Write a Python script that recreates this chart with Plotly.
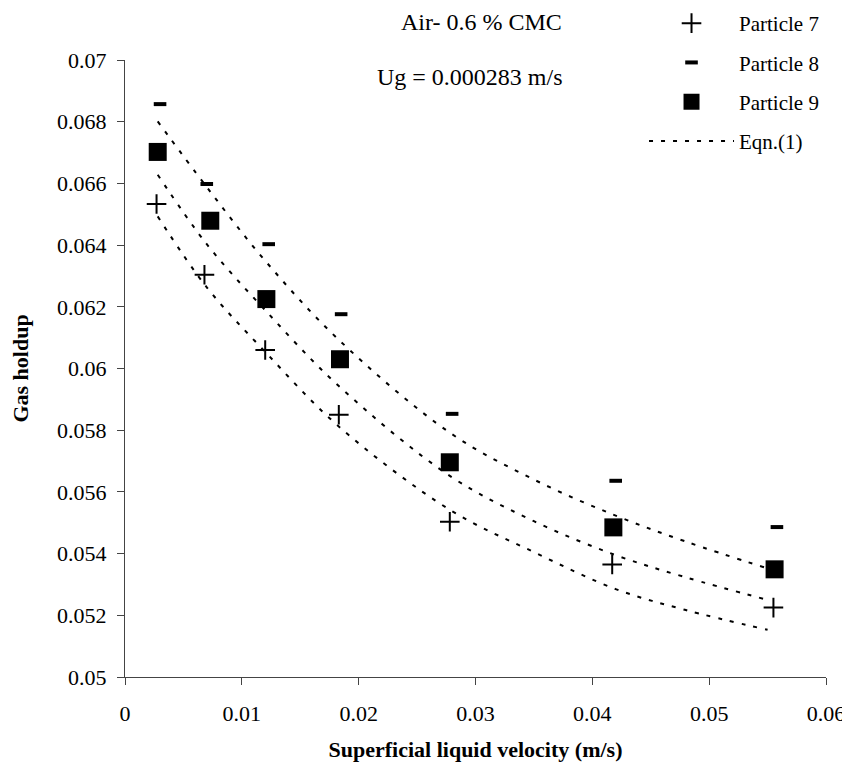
import plotly.graph_objects as go

# Measured data (superficial liquid velocity m/s, gas holdup)
x_p7 = [0.0027, 0.0068, 0.0120, 0.0183, 0.0278, 0.0417, 0.0555]
y_p7 = [0.06533, 0.06304, 0.06060, 0.05850, 0.05503, 0.05365, 0.05225]

x_p8 = [0.0030, 0.0070, 0.0123, 0.0185, 0.0280, 0.0420, 0.0558]
y_p8 = [0.06857, 0.06598, 0.06403, 0.06176, 0.05853, 0.05636, 0.05486]

x_p9 = [0.0028, 0.0073, 0.0121, 0.0184, 0.0278, 0.0418, 0.0556]
y_p9 = [0.06702, 0.06479, 0.06225, 0.06030, 0.05696, 0.05485, 0.05349]

# Eqn.(1) curves
x_fit = [0.0028, 0.0070, 0.0120, 0.0183, 0.0278, 0.0350, 0.0420, 0.0480, 0.0550]
y_fit7 = [0.06493, 0.06263, 0.06054, 0.05812, 0.05542, 0.05405, 0.05285, 0.05217, 0.05153]
y_fit8 = [0.06801, 0.06588, 0.06349, 0.06093, 0.05792, 0.05640, 0.05523, 0.05439, 0.05352]
y_fit9 = [0.06628, 0.06403, 0.06189, 0.05943, 0.05652, 0.05505, 0.05395, 0.05323, 0.05250]

x_ticks = [0, 0.01, 0.02, 0.03, 0.04, 0.05, 0.06]
x_ticklabels = ["0", "0.01", "0.02", "0.03", "0.04", "0.05", "0.06"]
y_ticks = [0.05, 0.052, 0.054, 0.056, 0.058, 0.06, 0.062, 0.064, 0.066, 0.068, 0.07]
y_ticklabels = ["0.05", "0.052", "0.054", "0.056", "0.058", "0.06",
                "0.062", "0.064", "0.066", "0.068", "0.07"]

FONT = "Liberation Serif"
dotline = dict(color="black", width=2, dash="4px,8px", shape="spline")

fig = go.Figure()

for yf, show in [(y_fit7, False), (y_fit8, False), (y_fit9, True)]:
    fig.add_trace(go.Scatter(
        x=x_fit, y=yf, mode="lines", line=dotline,
        name="Eqn.(1)", showlegend=show, legendgroup="g4", legendrank=4))

fig.add_trace(go.Scatter(
    x=x_p7, y=y_p7, mode="markers", name="Particle 7",
    legendgroup="g1", legendrank=1,
    marker=dict(symbol="cross-thin", size=14, line=dict(color="black", width=2))))
fig.add_trace(go.Scatter(
    x=x_p8, y=y_p8, mode="markers", name="Particle 8",
    legendgroup="g2", legendrank=2,
    marker=dict(symbol="line-ew", size=9, line=dict(color="black", width=4))))
fig.add_trace(go.Scatter(
    x=x_p9, y=y_p9, mode="markers", name="Particle 9",
    legendgroup="g3", legendrank=3,
    marker=dict(symbol="square", size=18, color="black")))

# The page body adds an 8px offset; the figure is sized so no scrollbar appears.
fig.update_layout(
    width=842, height=755,
    margin=dict(l=117, r=24, t=52, b=86, autoexpand=False),
    paper_bgcolor="white", plot_bgcolor="white",
    font=dict(family=FONT, size=22, color="black"),
    showlegend=True,
    legend=dict(
        x=0.7404, y=1.0924, xanchor="left", yanchor="top",
        traceorder="grouped", tracegroupgap=9,
        itemwidth=85, bgcolor="rgba(0,0,0,0)",
        font=dict(family=FONT, size=21, color="black"),
    ),
    xaxis=dict(
        range=[0, 0.06], tickvals=x_ticks, ticktext=x_ticklabels,
        showgrid=False, zeroline=False, showline=True, linecolor="#444",
        linewidth=1, ticks="outside", ticklen=7, tickcolor="#444",
        tickfont=dict(family=FONT, size=22), automargin=False,
        ticklabelstandoff=10,
        title=dict(text="<b>Superficial liquid velocity (m/s)</b>",
                   font=dict(family=FONT, size=22), standoff=16),
    ),
    yaxis=dict(
        range=[0.05, 0.07], tickvals=y_ticks, ticktext=y_ticklabels,
        showgrid=False, zeroline=False, showline=True, linecolor="#444",
        linewidth=1, ticks="outside", ticklen=7, tickcolor="#444",
        tickfont=dict(family=FONT, size=22), automargin=False,
        ticklabelstandoff=6,
        title=dict(text="<b>Gas holdup</b>",
                   font=dict(family=FONT, size=22), standoff=23),
    ),
    annotations=[
        dict(text="Air- 0.6 % CMC", x=0.509, y=1.0616, xref="paper", yref="paper",
             xanchor="center", yanchor="middle",
             showarrow=False, font=dict(family=FONT, size=24)),
        dict(text="Ug = 0.000283 m/s", x=0.492, y=0.9724, xref="paper", yref="paper",
             xanchor="center", yanchor="middle",
             showarrow=False, font=dict(family=FONT, size=24)),
    ],
)

fig.write_html("out.html")
